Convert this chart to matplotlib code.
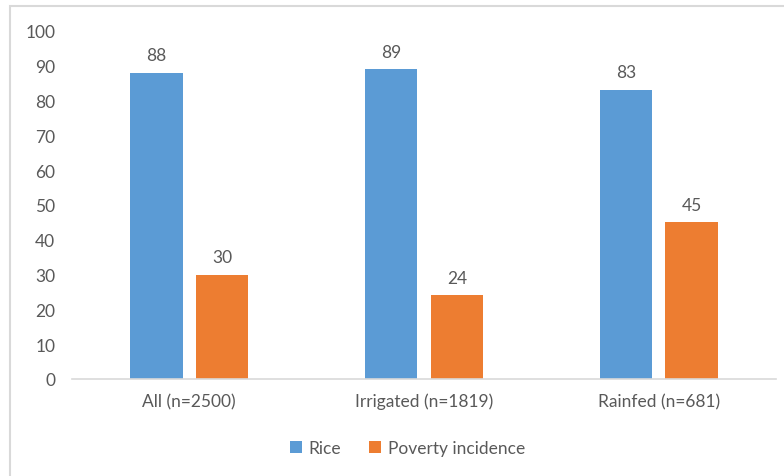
"""Rice share and poverty incidence by irrigation status"""

import numpy as np
import matplotlib.pyplot as plt
from matplotlib.patches import Rectangle

categories = ["All (n=2500)", "Irrigated (n=1819)", "Rainfed (n=681)"]
rice = [88, 89, 83]
poverty = [30, 24, 45]
series_names = ["Rice", "Poverty incidence"]

BLUE = "#5b9bd5"
ORANGE = "#ed7d31"
TEXT = "#595959"
LINE = "#d9d9d9"
FS = 12.5

plt.rcParams["font.family"] = ["Lato", "DejaVu Sans"]


def main():
    fig = plt.figure(figsize=(7.84, 4.77), dpi=100)
    ax = fig.add_axes([0.0918, 0.2034, 0.898, 0.7296])

    # Excel-like chart area border (cropped on the right/bottom)
    fig.patches.append(Rectangle((10 / 784, -0.1), 1.0, (477 - 7) / 477 + 0.1,
                                 transform=fig.transFigure, fill=False,
                                 edgecolor=LINE, linewidth=1.5))

    x = np.arange(len(categories))
    width = 0.222
    offset = 0.14

    bars1 = ax.bar(x - offset, rice, width, color=BLUE, label=series_names[0])
    bars2 = ax.bar(x + offset, poverty, width, color=ORANGE, label=series_names[1])

    for bars in (bars1, bars2):
        for b in bars:
            ax.annotate(f"{b.get_height():.0f}",
                        (b.get_x() + b.get_width() / 2, b.get_height()),
                        xytext=(0, 7), textcoords="offset points",
                        ha="center", va="bottom", fontsize=FS, color=TEXT)

    ax.set_xlim(-0.5, len(categories) - 0.5)
    ax.set_ylim(0, 100)
    ax.set_yticks(range(0, 101, 10))
    ax.set_xticks(x)
    ax.set_xticklabels(categories)

    for side in ("top", "right", "left"):
        ax.spines[side].set_visible(False)
    ax.spines["bottom"].set_color(LINE)
    ax.spines["bottom"].set_linewidth(1.2)

    ax.tick_params(axis="y", length=0, pad=12, labelsize=FS, labelcolor=TEXT)
    ax.tick_params(axis="x", length=0, pad=10, labelsize=FS, labelcolor=TEXT)

    fig.legend(loc="center", bbox_to_anchor=(0.52, 1 - 449 / 477), ncol=2,
               frameon=False, handlelength=0.7, handleheight=0.7,
               handletextpad=0.4, columnspacing=1.6, fontsize=FS,
               labelcolor=TEXT)

    fig.savefig("out.png", dpi=100)


if __name__ == "__main__":
    main()
